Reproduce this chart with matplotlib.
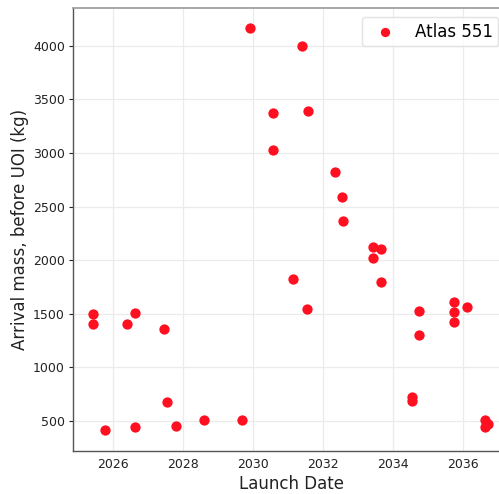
import matplotlib
matplotlib.use("Agg")
import matplotlib.pyplot as plt

# Launch opportunities (decimal year) and arrival mass before UOI (kg)
launch_year = [
    2025.43, 2025.41, 2026.61, 2026.40, 2027.46, 2027.54, 2025.75, 2026.63,
    2027.79, 2028.60, 2029.67,
    2029.90, 2030.56, 2030.58,
    2031.40, 2031.57, 2032.34, 2032.55, 2032.57,
    2033.44, 2033.66, 2033.44, 2033.66, 2031.14, 2031.53, 2034.75, 2034.75,
    2035.76, 2035.76, 2035.76, 2036.13, 2034.56, 2034.54, 2036.64, 2036.73,
    2036.63,
]
arrival_mass = [
    1501, 1408, 1507, 1402, 1358, 674, 413, 447,
    453, 509, 509,
    4166, 3376, 3025,
    4001, 3392, 2826, 2589, 2363,
    2120, 2102, 2020, 1797, 1822, 1545, 1529, 1302,
    1607, 1517, 1423, 1560, 727, 690, 506, 475,
    444,
]
series_label = "Atlas 551"
x_ticks = [2026, 2028, 2030, 2032, 2034, 2036]
y_ticks = [500, 1000, 1500, 2000, 2500, 3000, 3500, 4000]

fig = plt.figure(figsize=(4.99, 4.94), dpi=100)
ax = fig.add_axes([0.1469, 0.0877, 0.8727, 0.8955])

ax.scatter(launch_year, arrival_mass, s=55, color="#ff1020", label=series_label,
           zorder=3, linewidths=0)

ax.set_xticks(x_ticks)
ax.set_xticklabels([str(t) for t in x_ticks])
ax.set_yticks(y_ticks)
ax.set_xlim(2024.855, 2037.32)
ax.set_ylim(223, 4350)

ax.grid(True, color="#ebebeb", linewidth=0.9)
ax.set_axisbelow(True)

ax.tick_params(axis="x", length=0, labelsize=9, colors="#222222", pad=5)
ax.tick_params(axis="y", length=3, labelsize=9, colors="#222222", pad=3)

for side in ("left", "bottom"):
    ax.spines[side].set_color("#555555")
    ax.spines[side].set_linewidth(1.0)
for side in ("top", "right"):
    ax.spines[side].set_color("#999999")
    ax.spines[side].set_linewidth(1.2)

ax.set_xlabel("Launch Date", fontsize=12, color="#222222", labelpad=3)
ax.set_ylabel("Arrival mass, before UOI (kg)", fontsize=12, color="#222222",
              labelpad=3)

leg = ax.legend(loc="upper left", fontsize=12, frameon=True, borderpad=0.35,
                handletextpad=0.8, markerscale=0.9,
                bbox_to_anchor=(0.663, 0.981), borderaxespad=0.0)
leg.get_frame().set_edgecolor("#dddddd")
leg.get_frame().set_linewidth(1.0)

fig.savefig("out.png", dpi=100)
